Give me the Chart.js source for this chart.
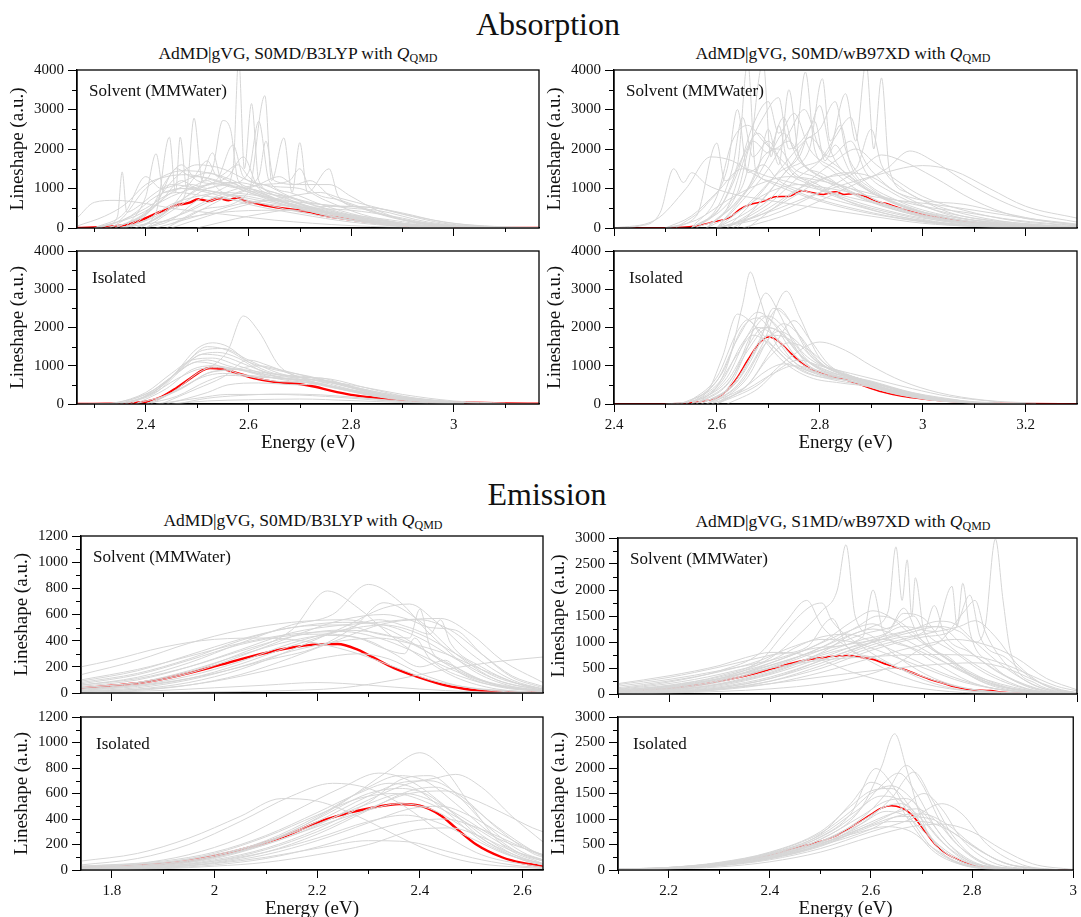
<!DOCTYPE html>
<html>
<head>
<meta charset="utf-8">
<script src="https://cdn.jsdelivr.net/npm/chart.js@4.4.0/dist/chart.umd.min.js"></script>
<style>
  body { margin: 0; background: #fff; width: 1081px; height: 917px; position: relative; overflow: hidden;
         font-family: "Liberation Serif", "Times New Roman", serif; color: #111; }
  canvas { position: absolute; }
  .sec { position: absolute; width: 400px; text-align: center; font-size: 32px; line-height: 32px; }
  .sub { position: absolute; width: 440px; text-align: center; font-size: 17.5px; line-height: 17px; white-space: nowrap; }
  .sub sub { font-size: 12px; vertical-align: -3px; line-height: 0; }
</style>
</head>
<body>
<div class="sec" style="left:348px; top:8px">Absorption</div>
<div class="sec" style="left:347px; top:478px">Emission</div>
<div class="sub" style="left:78px; top:45px">AdMD|gVG, S0MD/B3LYP with <i>Q</i><sub>QMD</sub></div>
<div class="sub" style="left:623px; top:45px">AdMD|gVG, S0MD/wB97XD with <i>Q</i><sub>QMD</sub></div>
<div class="sub" style="left:83px; top:512px">AdMD|gVG, S0MD/B3LYP with <i>Q</i><sub>QMD</sub></div>
<div class="sub" style="left:623px; top:513px">AdMD|gVG, S1MD/wB97XD with <i>Q</i><sub>QMD</sub></div>

<canvas id="absB3Solv"></canvas>
<canvas id="absB3Iso"></canvas>
<canvas id="absWbSolv"></canvas>
<canvas id="absWbIso"></canvas>
<canvas id="emB3Solv"></canvas>
<canvas id="emB3Iso"></canvas>
<canvas id="emWbSolv"></canvas>
<canvas id="emWbIso"></canvas>

<script>
// ---- tick values ----
const absB3_xTicks = [2.4, 2.6, 2.8, 3];
const absB3_xMinor = [2.3, 2.5, 2.7, 2.9, 3.1];
const absWb_xTicks = [2.4, 2.6, 2.8, 3, 3.2];
const absWb_xMinor = [2.5, 2.7, 2.9, 3.1];
const emB3_xTicks = [1.8, 2, 2.2, 2.4, 2.6];
const emB3_xMinor = [1.9, 2.1, 2.3, 2.5];
const emWb_xTicks = [2.2, 2.4, 2.6, 2.8, 3];
const emWb_xMinor = [2.1, 2.3, 2.5, 2.7, 2.9];
const abs_yTicks = [0, 1000, 2000, 3000, 4000];
const abs_yMinor = [500, 1500, 2500, 3500];
const emB3_yTicks = [0, 200, 400, 600, 800, 1000, 1200];
const emB3_yMinor = [100, 300, 500, 700, 900, 1100];
const emWb_yTicks = [0, 500, 1000, 1500, 2000, 2500, 3000];
const emWb_yMinor = [250, 750, 1250, 1750, 2250, 2750];

// ---- Absorption, S0MD/B3LYP, solvent ----
const absB3Solv_mean = [[2.266,0],[2.325,30],[2.367,100],[2.40,250],[2.422,380],[2.443,480],[2.457,570],[2.485,640],[2.502,730],[2.523,680],[2.544,755],[2.561,700],[2.579,770],[2.596,670],[2.61,640],[2.638,560],[2.672,490],[2.693,460],[2.721,400],[2.742,330],[2.797,220],[2.853,130],[2.916,60],[3.02,15],[3.166,0]];
const absB3Solv_grey = [
  [[2.266,250],[2.30,650],[2.34,700],[2.40,620],[2.45,500],[2.55,350],[2.65,200],[2.8,60],[2.95,10],[3.166,0]],
  [[2.266,50],[2.32,300],[2.36,600],[2.40,1100],[2.44,1300],[2.48,1350],[2.52,1250],[2.58,1000],[2.65,700],[2.75,400],[2.85,200],[2.95,60],[3.1,5],[3.166,0]],
  [[2.30,0],[2.33,100],[2.345,300],[2.354,1420],[2.363,400],[2.38,500],[2.42,900],[2.45,1100],[2.5,1000],[2.6,700],[2.7,400],[2.85,120],[3.0,10]],
  [[2.40,0],[2.45,200],[2.50,700],[2.55,1000],[2.57,1500],[2.581,4300],[2.592,1500],[2.606,3150],[2.62,1200],[2.65,900],[2.7,600],[2.8,250],[2.9,60],[3.0,10]],
  [[2.38,0],[2.42,400],[2.446,2300],[2.458,900],[2.467,2300],[2.48,1000],[2.52,1200],[2.55,900],[2.6,800],[2.7,500],[2.8,200],[2.9,50],[3.0,0]],
  [[2.40,100],[2.45,500],[2.48,1000],[2.494,2780],[2.51,1200],[2.53,1500],[2.55,2720],[2.565,2500],[2.58,1200],[2.62,900],[2.7,500],[2.8,200],[2.95,30]],
  [[2.45,100],[2.52,500],[2.6,900],[2.632,3350],[2.645,1200],[2.669,2280],[2.685,900],[2.70,2160],[2.715,900],[2.757,1500],[2.775,800],[2.82,500],[2.9,200],[3.0,50],[3.1,0]],
  [[2.30,0],[2.38,300],[2.45,800],[2.52,1100],[2.58,1150],[2.65,900],[2.72,650],[2.80,500],[2.85,450],[2.95,150],[3.05,30],[3.166,0]],
  [[2.34,0],[2.40,400],[2.46,1300],[2.50,1600],[2.55,1500],[2.60,1200],[2.65,1050],[2.70,1000],[2.75,700],[2.82,350],[2.9,120],[3.0,20]],
  [[2.35,0],[2.45,200],[2.55,400],[2.65,450],[2.75,400],[2.85,250],[2.95,80],[3.05,10]],
  [[2.40,0],[2.48,400],[2.55,800],[2.62,1300],[2.634,2200],[2.65,1200],[2.70,1100],[2.757,1100],[2.80,800],[2.85,450],[2.92,150],[3.0,30]],
  [[2.36,0],[2.40,800],[2.42,1880],[2.435,900],[2.47,1000],[2.52,900],[2.6,600],[2.7,350],[2.8,150],[2.9,30]],
  [[2.50,0],[2.6,300],[2.7,500],[2.78,550],[2.85,500],[2.92,300],[3.0,120],[3.08,40],[3.166,10]],
  [[2.30,0],[2.35,200],[2.40,1000],[2.45,1400],[2.48,1450],[2.55,1300],[2.62,900],[2.7,500],[2.8,200],[2.9,40]],
  [[2.32,0],[2.38,200],[2.43,700],[2.47,1200],[2.5,1000],[2.53,1900],[2.55,1100],[2.6,1000],[2.66,700],[2.74,400],[2.84,150],[2.95,20]],
  [[2.36,0],[2.42,300],[2.48,800],[2.52,1100],[2.56,1300],[2.59,1800],[2.62,1000],[2.67,800],[2.72,600],[2.8,300],[2.9,80],[3.0,10]],
  [[2.3,0],[2.36,400],[2.4,1300],[2.43,1000],[2.46,1100],[2.5,1300],[2.54,1200],[2.6,900],[2.68,550],[2.78,250],[2.9,50]],
  [[2.4,0],[2.46,300],[2.52,700],[2.58,1000],[2.63,1100],[2.68,1200],[2.7,1500],[2.72,1000],[2.78,700],[2.85,400],[2.92,150],[3.02,20]],
  [[2.33,0],[2.4,500],[2.46,900],[2.52,800],[2.58,700],[2.64,600],[2.72,500],[2.8,450],[2.88,300],[2.96,100],[3.06,15]],
  [[2.38,0],[2.44,400],[2.49,1200],[2.52,1700],[2.54,1300],[2.58,1600],[2.6,1300],[2.64,900],[2.7,600],[2.8,250],[2.9,60]],
  [[2.42,0],[2.5,300],[2.58,600],[2.64,700],[2.7,650],[2.78,550],[2.84,520],[2.9,380],[2.98,150],[3.08,30],[3.166,5]],
  [[2.35,0],[2.4,200],[2.45,600],[2.5,800],[2.55,900],[2.6,850],[2.67,700],[2.75,450],[2.85,200],[2.95,50]],
  [[2.34,0],[2.4,350],[2.45,900],[2.49,1100],[2.52,1000],[2.56,1150],[2.6,950],[2.66,700],[2.74,450],[2.84,180],[2.95,30]],
  [[2.39,0],[2.45,500],[2.5,1000],[2.54,1250],[2.57,2100],[2.59,1300],[2.63,1100],[2.68,800],[2.75,500],[2.85,200],[2.95,40]],
  [[2.37,0],[2.42,600],[2.46,1500],[2.49,1300],[2.52,1400],[2.56,1200],[2.62,850],[2.7,550],[2.8,250],[2.9,60]],
  [[2.44,0],[2.5,400],[2.56,800],[2.62,1100],[2.66,1300],[2.69,1100],[2.72,1200],[2.76,800],[2.82,500],[2.9,220],[3.0,50]],
  [[2.31,0],[2.37,300],[2.42,800],[2.47,1000],[2.52,950],[2.58,800],[2.64,650],[2.72,450],[2.82,220],[2.92,60]],
  [[2.4,0],[2.47,600],[2.52,1000],[2.56,1100],[2.6,1400],[2.62,2700],[2.64,1200],[2.68,900],[2.74,600],[2.82,300],[2.92,80]],
  [[2.36,0],[2.41,500],[2.44,1200],[2.47,1600],[2.5,1200],[2.55,1100],[2.6,1000],[2.66,800],[2.73,500],[2.82,220],[2.92,50]],
  [[2.45,0],[2.52,300],[2.6,600],[2.68,800],[2.74,900],[2.78,750],[2.84,550],[2.9,350],[2.98,120],[3.08,20]]
];

// ---- Absorption, S0MD/B3LYP, isolated ----
const absB3Iso_mean = [[2.266,0],[2.33,5],[2.38,30],[2.40,60],[2.43,180],[2.46,420],[2.49,700],[2.51,880],[2.525,940],[2.55,910],[2.58,800],[2.61,680],[2.65,580],[2.70,520],[2.73,450],[2.76,350],[2.80,240],[2.85,160],[2.9,100],[3.0,45],[3.1,15],[3.166,5]];
const absB3Iso_grey = [
  [[2.266,0],[2.35,30],[2.40,200],[2.45,700],[2.50,1450],[2.53,1600],[2.56,1500],[2.60,1100],[2.65,800],[2.72,700],[2.78,500],[2.85,250],[2.95,80],[3.05,20],[3.166,0]],
  [[2.30,0],[2.38,100],[2.44,600],[2.50,1250],[2.54,1350],[2.58,1200],[2.62,900],[2.70,650],[2.76,450],[2.85,200],[3.0,40]],
  [[2.38,0],[2.45,300],[2.50,800],[2.54,1100],[2.56,1400],[2.59,2300],[2.62,1900],[2.66,1000],[2.70,700],[2.78,400],[2.88,150],[3.0,30]],
  [[2.35,0],[2.42,400],[2.48,1000],[2.52,1150],[2.56,1000],[2.62,800],[2.68,700],[2.74,680],[2.80,450],[2.88,200],[3.0,50]],
  [[2.40,0],[2.46,200],[2.52,600],[2.56,750],[2.62,700],[2.70,650],[2.76,600],[2.82,400],[2.9,200],[3.0,60],[3.1,10]],
  [[2.42,0],[2.50,150],[2.56,250],[2.65,250],[2.75,200],[2.85,100],[2.95,30]],
  [[2.45,0],[2.52,80],[2.6,110],[2.7,130],[2.8,90],[2.9,40],[3.0,10]],
  [[2.36,0],[2.42,300],[2.47,900],[2.51,1300],[2.55,1250],[2.60,1000],[2.66,700],[2.72,600],[2.8,350],[2.9,120],[3.0,30]],
  [[2.40,0],[2.47,400],[2.52,800],[2.57,900],[2.62,1000],[2.66,900],[2.72,700],[2.78,500],[2.86,250],[2.95,80]],
  [[2.33,0],[2.40,250],[2.46,800],[2.50,1100],[2.53,1050],[2.58,800],[2.65,600],[2.72,550],[2.80,350],[2.9,120],[3.0,30]],
  [[2.43,0],[2.50,400],[2.55,700],[2.60,1150],[2.64,1000],[2.70,700],[2.76,550],[2.84,300],[2.95,100],[3.05,20]],
  [[2.44,0],[2.52,300],[2.56,500],[2.62,550],[2.7,500],[2.76,560],[2.82,450],[2.9,250],[3.0,80],[3.1,20]],
  [[2.36,0],[2.42,350],[2.47,950],[2.51,1400],[2.55,1450],[2.6,1150],[2.66,800],[2.72,650],[2.8,380],[2.9,130],[3.0,30]],
  [[2.38,0],[2.44,400],[2.49,900],[2.53,1000],[2.58,900],[2.64,700],[2.7,620],[2.78,420],[2.88,160],[3.0,30]],
  [[2.34,0],[2.4,300],[2.45,800],[2.49,1150],[2.53,1200],[2.58,1000],[2.64,750],[2.7,600],[2.78,380],[2.88,130],[3.0,25]],
  [[2.4,0],[2.46,350],[2.51,700],[2.55,800],[2.6,750],[2.68,650],[2.75,600],[2.82,400],[2.9,180],[3.0,40]],
  [[2.37,0],[2.43,450],[2.48,1100],[2.52,1500],[2.56,1400],[2.6,1100],[2.65,900],[2.72,720],[2.8,450],[2.9,150],[3.0,30]],
  [[2.41,0],[2.48,500],[2.53,850],[2.58,900],[2.64,800],[2.7,700],[2.76,650],[2.83,420],[2.92,160],[3.02,30]],
  [[2.46,0],[2.52,150],[2.58,220],[2.66,260],[2.74,240],[2.82,160],[2.92,60],[3.02,10]],
  [[2.35,0],[2.41,250],[2.46,650],[2.5,900],[2.54,950],[2.6,850],[2.66,650],[2.74,520],[2.82,320],[2.92,110],[3.02,20]]
];

// ---- Absorption, S0MD/wB97XD, solvent ----
const absWbSolv_mean = [[2.4,0],[2.5,5],[2.558,50],[2.592,150],[2.625,270],[2.645,480],[2.666,600],[2.692,680],[2.713,790],[2.74,800],[2.765,940],[2.787,890],[2.807,850],[2.83,920],[2.847,850],[2.867,870],[2.89,790],[2.908,680],[2.928,625],[2.961,480],[2.995,355],[3.03,270],[3.062,200],[3.13,100],[3.197,50],[3.3,25]];
const absWbSolv_grey = [
  [[2.4,0],[2.45,50],[2.49,400],[2.516,1500],[2.535,1150],[2.551,1400],[2.58,1100],[2.62,900],[2.7,700],[2.8,500],[2.9,300],[3.0,120],[3.1,40],[3.2,10],[3.3,0]],
  [[2.4,0],[2.48,200],[2.54,1000],[2.588,1800],[2.63,1700],[2.68,1300],[2.75,900],[2.85,500],[2.95,250],[3.05,80],[3.15,20],[3.3,0]],
  [[2.5,0],[2.56,300],[2.6,2150],[2.615,1200],[2.64,1600],[2.66,4200],[2.675,1500],[2.70,1200],[2.78,800],[2.88,450],[2.98,200],[3.1,50],[3.3,0]],
  [[2.55,0],[2.62,600],[2.66,1500],[2.69,4200],[2.705,1800],[2.72,2600],[2.74,1500],[2.78,1200],[2.85,700],[2.95,300],[3.05,100],[3.2,10]],
  [[2.58,0],[2.65,800],[2.7,1800],[2.73,2800],[2.75,2000],[2.772,3950],[2.79,2000],[2.82,1500],[2.88,900],[2.95,500],[3.05,200],[3.2,40],[3.3,10]],
  [[2.6,0],[2.68,600],[2.74,1500],[2.78,2000],[2.805,3780],[2.82,2200],[2.84,2600],[2.86,1600],[2.9,1000],[2.98,500],[3.08,180],[3.2,40],[3.3,10]],
  [[2.62,0],[2.7,700],[2.76,1500],[2.82,2000],[2.85,3400],[2.87,2200],[2.89,4200],[2.905,2000],[2.92,3800],[2.935,1500],[2.97,900],[3.05,400],[3.15,150],[3.3,30]],
  [[2.6,0],[2.7,300],[2.8,900],[2.88,1500],[2.92,1850],[2.96,1700],[3.02,1300],[3.1,700],[3.18,300],[3.3,80]],
  [[2.65,0],[2.75,400],[2.85,1000],[2.93,1500],[2.975,1950],[3.02,1700],[3.08,1200],[3.15,700],[3.22,350],[3.3,150]],
  [[2.6,0],[2.7,400],[2.8,900],[2.9,1300],[3.0,1580],[3.06,1450],[3.13,1000],[3.2,550],[3.3,250]],
  [[2.55,0],[2.6,400],[2.64,1400],[2.67,2600],[2.7,3200],[2.72,2400],[2.75,2900],[2.78,2000],[2.83,1500],[2.9,900],[3.0,400],[3.1,150],[3.2,40]],
  [[2.5,0],[2.55,300],[2.6,900],[2.65,1500],[2.7,1300],[2.76,1100],[2.82,900],[2.9,650],[3.0,400],[3.1,200],[3.2,80],[3.3,30]],
  [[2.56,0],[2.62,500],[2.66,2000],[2.69,2800],[2.72,3300],[2.74,2000],[2.78,2500],[2.8,3100],[2.82,2000],[2.87,1200],[2.95,600],[3.05,250],[3.2,50]],
  [[2.6,0],[2.68,300],[2.75,800],[2.8,1200],[2.85,1400],[2.9,1300],[2.95,900],[3.0,700],[3.08,600],[3.15,400],[3.25,150],[3.3,80]],
  [[2.55,0],[2.6,500],[2.63,1500],[2.65,2800],[2.67,1800],[2.7,2200],[2.73,1500],[2.78,1100],[2.85,700],[2.95,350],[3.05,120],[3.2,20]],
  [[2.58,0],[2.64,700],[2.68,1500],[2.7,2500],[2.72,1600],[2.74,3500],[2.76,1800],[2.8,1400],[2.86,900],[2.95,450],[3.05,150],[3.2,30]],
  [[2.6,0],[2.66,600],[2.72,1400],[2.76,1800],[2.79,2700],[2.81,1700],[2.83,2100],[2.86,1400],[2.92,800],[3.0,400],[3.1,150],[3.25,30]],
  [[2.52,0],[2.58,600],[2.62,1500],[2.64,3000],[2.66,1400],[2.69,1600],[2.72,1200],[2.78,900],[2.86,600],[2.95,300],[3.08,80],[3.25,10]],
  [[2.62,0],[2.7,600],[2.76,1300],[2.8,1700],[2.83,2300],[2.86,2800],[2.88,1900],[2.92,1200],[2.98,700],[3.06,300],[3.18,80],[3.3,20]],
  [[2.5,0],[2.56,200],[2.62,700],[2.68,1100],[2.74,1300],[2.8,1200],[2.86,1000],[2.92,800],[3.0,550],[3.08,400],[3.18,200],[3.3,60]],
  [[2.58,0],[2.64,900],[2.67,2200],[2.7,1900],[2.73,2400],[2.76,1700],[2.8,1300],[2.86,1000],[2.93,600],[3.02,280],[3.12,90],[3.25,15]],
  [[2.63,0],[2.7,500],[2.76,1000],[2.82,1300],[2.87,1500],[2.9,2500],[2.92,1600],[2.96,1000],[3.02,600],[3.1,300],[3.2,100],[3.3,30]],
  [[2.56,0],[2.61,600],[2.65,1800],[2.68,2400],[2.71,2000],[2.74,2200],[2.77,1600],[2.82,1200],[2.9,700],[3.0,300],[3.12,80],[3.3,10]],
  [[2.6,0],[2.65,700],[2.7,1500],[2.74,2400],[2.77,3000],[2.8,2000],[2.84,1500],[2.9,900],[2.98,450],[3.1,120],[3.3,20]],
  [[2.62,0],[2.68,800],[2.73,1600],[2.77,2200],[2.8,2500],[2.83,3200],[2.85,2000],[2.88,1300],[2.95,700],[3.05,300],[3.2,60]],
  [[2.55,0],[2.6,800],[2.63,2200],[2.66,2600],[2.69,2200],[2.72,1800],[2.76,1300],[2.82,900],[2.9,550],[3.0,250],[3.15,50]],
  [[2.64,0],[2.7,900],[2.75,1700],[2.78,2300],[2.82,1800],[2.86,2200],[2.89,1400],[2.94,900],[3.0,550],[3.1,250],[3.25,60]],
  [[2.58,0],[2.64,400],[2.7,900],[2.76,1100],[2.82,1000],[2.88,850],[2.95,700],[3.02,600],[3.1,450],[3.2,250],[3.3,100]],
  [[2.6,0],[2.66,1000],[2.69,1800],[2.72,2000],[2.75,1500],[2.79,1300],[2.84,1000],[2.9,650],[2.98,350],[3.1,100],[3.25,20]],
  [[2.66,0],[2.72,600],[2.78,1200],[2.83,1700],[2.87,2000],[2.91,1600],[2.95,1200],[3.0,800],[3.08,450],[3.18,180],[3.3,50]]
];

// ---- Absorption, S0MD/wB97XD, isolated ----
const absWbIso_mean = [[2.4,0],[2.5,2],[2.55,30],[2.58,90],[2.6,160],[2.62,360],[2.64,700],[2.66,1150],[2.68,1550],[2.70,1750],[2.72,1640],[2.74,1380],[2.76,1120],[2.78,930],[2.80,810],[2.83,700],[2.86,590],[2.89,450],[2.92,320],[2.96,200],[3.0,130],[3.05,70],[3.1,35],[3.2,10],[3.3,2]];
const absWbIso_grey = [
  [[2.5,0],[2.58,200],[2.62,1000],[2.65,2600],[2.665,3450],[2.68,2900],[2.71,1700],[2.75,1100],[2.8,800],[2.86,650],[2.92,400],[3.0,150],[3.1,30],[3.2,0]],
  [[2.52,0],[2.58,300],[2.61,1200],[2.64,2350],[2.67,2100],[2.71,1500],[2.76,900],[2.82,650],[2.88,500],[2.95,250],[3.05,60],[3.2,0]],
  [[2.55,0],[2.62,400],[2.66,1500],[2.695,2900],[2.72,2400],[2.76,1300],[2.8,800],[2.86,600],[2.93,350],[3.0,150],[3.1,30]],
  [[2.58,0],[2.64,500],[2.69,1600],[2.735,2950],[2.76,2300],[2.8,1200],[2.85,800],[2.9,550],[2.97,250],[3.05,80],[3.2,5]],
  [[2.56,0],[2.63,700],[2.67,1900],[2.70,2300],[2.73,2000],[2.77,1300],[2.82,900],[2.88,650],[2.95,300],[3.05,80]],
  [[2.6,0],[2.66,500],[2.71,1500],[2.75,2180],[2.78,1700],[2.82,1000],[2.88,650],[2.95,300],[3.05,80]],
  [[2.6,0],[2.68,500],[2.74,1200],[2.80,1620],[2.85,1400],[2.9,1000],[2.96,600],[3.03,300],[3.12,100],[3.22,20]],
  [[2.55,0],[2.62,600],[2.66,1500],[2.69,2000],[2.72,1900],[2.76,1300],[2.8,900],[2.86,700],[2.93,400],[3.0,180],[3.1,40]],
  [[2.58,0],[2.65,400],[2.7,900],[2.73,1050],[2.77,900],[2.82,700],[2.88,550],[2.94,300],[3.02,100],[3.1,20]],
  [[2.54,0],[2.6,700],[2.64,1900],[2.66,2200],[2.69,1700],[2.73,1100],[2.78,700],[2.84,550],[2.9,450],[2.96,250],[3.05,60]],
  [[2.57,0],[2.64,600],[2.68,1500],[2.71,2500],[2.74,2200],[2.78,1300],[2.84,800],[2.9,600],[2.98,300],[3.08,80]],
  [[2.62,0],[2.68,400],[2.72,900],[2.76,1150],[2.8,1000],[2.86,800],[2.92,600],[2.98,400],[3.05,200],[3.15,50]],
  [[2.54,0],[2.6,600],[2.64,1700],[2.68,2400],[2.71,2100],[2.75,1300],[2.8,850],[2.86,650],[2.93,380],[3.02,120],[3.12,20]],
  [[2.56,0],[2.62,500],[2.66,1400],[2.7,2000],[2.73,1800],[2.77,1200],[2.82,850],[2.88,600],[2.95,300],[3.05,70]],
  [[2.58,0],[2.64,600],[2.68,1600],[2.72,2500],[2.75,2000],[2.79,1200],[2.84,800],[2.9,580],[2.97,280],[3.06,70]],
  [[2.55,0],[2.61,800],[2.65,2000],[2.68,2250],[2.71,1800],[2.75,1100],[2.8,750],[2.86,600],[2.93,350],[3.02,100]],
  [[2.6,0],[2.66,700],[2.7,1700],[2.73,2100],[2.76,1800],[2.8,1100],[2.86,700],[2.92,500],[3.0,220],[3.1,50]],
  [[2.57,0],[2.63,500],[2.67,1300],[2.7,1800],[2.74,1700],[2.78,1100],[2.84,750],[2.9,560],[2.97,280],[3.06,60]],
  [[2.59,0],[2.66,400],[2.71,800],[2.75,1000],[2.79,900],[2.84,700],[2.9,560],[2.97,320],[3.05,120],[3.15,20]],
  [[2.53,0],[2.6,500],[2.64,1300],[2.67,1800],[2.7,1600],[2.74,1100],[2.79,750],[2.85,620],[2.92,420],[3.0,180],[3.1,40]],
  [[2.56,0],[2.62,700],[2.66,1800],[2.69,2300],[2.72,2000],[2.76,1300],[2.81,850],[2.87,620],[2.94,330],[3.03,90]],
  [[2.59,0],[2.65,600],[2.69,1500],[2.72,1900],[2.75,1700],[2.79,1150],[2.84,780],[2.9,580],[2.97,300],[3.06,70]],
  [[2.55,0],[2.61,600],[2.65,1600],[2.68,2000],[2.71,1800],[2.75,1200],[2.8,800],[2.86,640],[2.93,400],[3.02,130]],
  [[2.6,0],[2.66,500],[2.7,1200],[2.74,1600],[2.78,1400],[2.82,950],[2.88,650],[2.95,380],[3.04,110],[3.14,20]]
];

// ---- Emission, S0MD/B3LYP, solvent ----
const emB3Solv_mean = [[1.74,37],[1.80,55],[1.86,80],[1.93,134],[2.0,203],[2.07,278],[2.14,340],[2.20,372],[2.24,375],[2.28,330],[2.31,270],[2.35,190],[2.40,117],[2.45,58],[2.50,25],[2.56,8],[2.64,2]];
const emB3Solv_grey = [
  [[1.74,200],[1.80,250],[1.90,350],[2.0,410],[2.1,420],[2.2,380],[2.28,300],[2.35,200],[2.42,100],[2.5,40],[2.6,10]],
  [[1.74,140],[1.85,250],[1.95,380],[2.05,480],[2.15,540],[2.25,560],[2.33,500],[2.40,350],[2.47,180],[2.55,60],[2.64,15]],
  [[1.74,60],[1.85,120],[1.95,230],[2.05,380],[2.15,520],[2.23,600],[2.30,830],[2.36,700],[2.42,450],[2.5,180],[2.58,50],[2.64,20]],
  [[1.74,40],[1.85,80],[1.95,160],[2.05,300],[2.15,480],[2.22,780],[2.28,650],[2.34,450],[2.40,280],[2.47,120],[2.55,30],[2.64,5]],
  [[1.74,30],[1.85,70],[1.95,150],[2.05,280],[2.15,430],[2.25,560],[2.33,600],[2.38,560],[2.42,500],[2.47,480],[2.52,300],[2.58,120],[2.64,40]],
  [[1.74,80],[1.85,150],[1.95,260],[2.05,400],[2.15,500],[2.25,520],[2.32,450],[2.38,420],[2.40,640],[2.42,350],[2.47,200],[2.55,60],[2.64,10]],
  [[1.74,0],[1.9,5],[2.1,15],[2.25,40],[2.35,100],[2.45,180],[2.55,240],[2.64,275]],
  [[1.74,20],[1.9,80],[2.0,150],[2.1,250],[2.2,350],[2.27,500],[2.33,690],[2.4,550],[2.47,300],[2.55,100],[2.64,20]],
  [[1.74,50],[1.85,100],[1.95,200],[2.05,330],[2.15,460],[2.25,520],[2.32,540],[2.37,560],[2.44,570],[2.5,450],[2.56,250],[2.64,80]],
  [[1.74,10],[1.9,40],[2.0,90],[2.1,170],[2.2,260],[2.28,300],[2.34,260],[2.4,150],[2.47,60],[2.55,15],[2.64,0]],
  [[1.74,70],[1.85,140],[1.95,250],[2.05,370],[2.15,440],[2.22,450],[2.3,400],[2.35,300],[2.4,200],[2.45,250],[2.48,150],[2.55,50],[2.64,10]],
  [[1.74,0],[1.9,20],[2.0,40],[2.1,60],[2.2,80],[2.3,60],[2.4,30],[2.5,10],[2.64,0]],
  [[1.74,10],[1.85,30],[1.95,80],[2.05,180],[2.15,330],[2.25,500],[2.33,650],[2.38,680],[2.43,550],[2.5,300],[2.58,100],[2.64,30]],
  [[1.74,30],[1.85,60],[1.95,130],[2.05,240],[2.15,380],[2.25,480],[2.33,520],[2.4,450],[2.47,300],[2.55,120],[2.64,30]],
  [[1.74,60],[1.85,110],[1.95,200],[2.05,320],[2.15,430],[2.24,480],[2.3,470],[2.37,400],[2.44,260],[2.52,100],[2.64,15]],
  [[1.74,20],[1.85,50],[1.95,110],[2.05,220],[2.15,360],[2.25,480],[2.32,560],[2.38,500],[2.42,450],[2.44,560],[2.46,380],[2.52,200],[2.6,60],[2.64,30]],
  [[1.74,90],[1.85,170],[1.95,290],[2.05,410],[2.15,500],[2.25,540],[2.33,520],[2.4,420],[2.47,260],[2.55,100],[2.64,20]],
  [[1.74,5],[1.85,20],[1.95,60],[2.05,140],[2.15,270],[2.25,420],[2.33,530],[2.4,560],[2.46,480],[2.52,300],[2.58,130],[2.64,50]],
  [[1.74,40],[1.85,80],[1.95,170],[2.05,290],[2.15,400],[2.22,440],[2.28,420],[2.33,340],[2.37,300],[2.39,420],[2.42,260],[2.5,100],[2.64,10]],
  [[1.74,15],[1.85,40],[1.95,100],[2.05,200],[2.15,320],[2.25,400],[2.32,420],[2.38,380],[2.45,300],[2.52,180],[2.6,60],[2.64,30]],
  [[1.74,100],[1.85,180],[1.95,280],[2.05,380],[2.15,450],[2.25,470],[2.32,420],[2.38,330],[2.45,200],[2.53,80],[2.64,10]]
];

// ---- Emission, S0MD/B3LYP, isolated ----
const emB3Iso_mean = [[1.74,18],[1.80,25],[1.86,38],[1.93,59],[2.0,110],[2.07,180],[2.14,270],[2.20,372],[2.24,425],[2.31,490],[2.36,518],[2.40,505],[2.44,430],[2.47,330],[2.51,200],[2.56,100],[2.60,55],[2.64,30]];
const emB3Iso_grey = [
  [[1.74,70],[1.85,130],[1.95,250],[2.05,420],[2.13,560],[2.2,540],[2.28,420],[2.35,280],[2.42,150],[2.5,60],[2.64,10]],
  [[1.74,40],[1.85,90],[1.95,200],[2.05,380],[2.15,580],[2.23,680],[2.3,640],[2.37,500],[2.44,300],[2.52,120],[2.64,20]],
  [[1.74,20],[1.85,50],[1.95,120],[2.05,250],[2.15,450],[2.25,650],[2.32,760],[2.38,700],[2.45,500],[2.52,250],[2.6,80],[2.64,40]],
  [[1.74,5],[1.85,20],[1.95,60],[2.05,150],[2.15,300],[2.25,530],[2.34,780],[2.40,920],[2.45,780],[2.5,500],[2.56,200],[2.64,50]],
  [[1.74,10],[1.9,40],[2.0,90],[2.1,200],[2.2,350],[2.3,550],[2.38,680],[2.43,720],[2.47,750],[2.52,650],[2.58,420],[2.64,220]],
  [[1.74,30],[1.9,60],[2.0,120],[2.1,220],[2.2,360],[2.3,520],[2.37,600],[2.42,550],[2.48,420],[2.55,250],[2.64,120]],
  [[1.74,10],[1.9,30],[2.0,70],[2.1,140],[2.2,250],[2.3,380],[2.37,430],[2.43,380],[2.5,250],[2.57,120],[2.64,50]],
  [[1.74,5],[1.9,20],[2.0,50],[2.1,100],[2.2,170],[2.3,230],[2.38,220],[2.45,150],[2.52,80],[2.6,30],[2.64,20]],
  [[1.74,15],[1.9,50],[2.0,110],[2.1,230],[2.2,420],[2.3,650],[2.36,740],[2.41,700],[2.47,520],[2.54,280],[2.6,120],[2.64,70]],
  [[1.74,5],[1.9,25],[2.0,70],[2.1,160],[2.2,300],[2.3,480],[2.38,600],[2.45,620],[2.5,560],[2.56,450],[2.62,330],[2.64,300]],
  [[1.74,25],[1.9,60],[2.0,130],[2.1,260],[2.2,430],[2.28,560],[2.35,600],[2.42,520],[2.5,350],[2.58,160],[2.64,70]],
  [[1.74,0],[1.9,10],[2.0,30],[2.1,60],[2.2,120],[2.3,200],[2.4,320],[2.46,330],[2.52,260],[2.58,150],[2.64,80]],
  [[1.74,10],[1.9,40],[2.0,100],[2.1,210],[2.2,380],[2.3,580],[2.37,690],[2.42,700],[2.48,580],[2.55,330],[2.62,130],[2.64,100]],
  [[1.74,20],[1.9,50],[2.0,110],[2.1,220],[2.2,400],[2.3,600],[2.36,640],[2.41,600],[2.47,430],[2.54,220],[2.6,90],[2.64,50]],
  [[1.74,5],[1.9,20],[2.0,60],[2.1,140],[2.2,280],[2.3,470],[2.38,620],[2.43,650],[2.48,560],[2.55,340],[2.62,150],[2.64,110]],
  [[1.74,15],[1.9,45],[2.0,100],[2.1,200],[2.2,340],[2.3,470],[2.36,520],[2.42,480],[2.48,350],[2.55,180],[2.62,70],[2.64,50]],
  [[1.74,5],[1.9,20],[2.0,55],[2.1,120],[2.2,230],[2.3,370],[2.38,480],[2.44,500],[2.5,420],[2.56,280],[2.62,150],[2.64,120]],
  [[1.74,30],[1.9,70],[2.0,140],[2.1,270],[2.2,450],[2.28,600],[2.34,680],[2.39,640],[2.45,460],[2.52,230],[2.6,80],[2.64,40]],
  [[1.74,10],[1.9,30],[2.0,80],[2.1,170],[2.2,320],[2.3,530],[2.37,720],[2.42,740],[2.47,600],[2.53,350],[2.6,140],[2.64,80]],
  [[1.74,5],[1.9,15],[2.0,40],[2.1,90],[2.2,180],[2.3,300],[2.38,380],[2.45,400],[2.5,350],[2.56,250],[2.62,140],[2.64,110]]
];

// ---- Emission, S1MD/wB97XD, solvent ----
const emWbSolv_mean = [[2.1,44],[2.15,75],[2.2,106],[2.25,165],[2.3,250],[2.35,350],[2.40,480],[2.44,590],[2.47,655],[2.50,700],[2.55,740],[2.575,710],[2.60,665],[2.625,575],[2.645,510],[2.665,460],[2.69,360],[2.715,270],[2.74,200],[2.76,140],[2.795,80],[2.83,65],[2.855,30],[2.9,6],[3.0,0]];
const emWbSolv_grey = [
  [[2.1,200],[2.2,350],[2.3,550],[2.35,700],[2.4,800],[2.45,780],[2.5,650],[2.55,450],[2.62,250],[2.7,100],[2.8,20],[3.0,0]],
  [[2.1,100],[2.2,230],[2.3,450],[2.38,800],[2.43,1400],[2.47,1800],[2.5,1300],[2.55,900],[2.62,500],[2.7,200],[2.8,50],[3.0,0]],
  [[2.1,50],[2.2,120],[2.3,300],[2.4,700],[2.45,1100],[2.5,1600],[2.53,2000],[2.547,2870],[2.565,1500],[2.6,1100],[2.65,700],[2.72,300],[2.8,80],[2.9,10],[3.0,0]],
  [[2.1,30],[2.2,80],[2.3,200],[2.4,450],[2.5,800],[2.55,1100],[2.6,1300],[2.63,1600],[2.645,2830],[2.657,1800],[2.667,2580],[2.676,1500],[2.683,2235],[2.7,1200],[2.75,700],[2.8,300],[2.88,60],[3.0,0]],
  [[2.1,10],[2.2,40],[2.3,120],[2.4,300],[2.5,650],[2.6,1000],[2.66,1300],[2.72,1200],[2.755,2070],[2.765,1300],[2.776,2130],[2.79,1200],[2.83,600],[2.9,150],[2.97,20],[3.0,5]],
  [[2.1,20],[2.2,70],[2.3,180],[2.4,400],[2.5,750],[2.6,1000],[2.68,1200],[2.73,1300],[2.77,1200],[2.8,1000],[2.82,1300],[2.84,2980],[2.855,1800],[2.87,800],[2.92,200],[3.0,20]],
  [[2.1,5],[2.2,30],[2.3,90],[2.4,250],[2.5,550],[2.6,900],[2.7,1150],[2.77,1300],[2.8,1410],[2.84,1100],[2.88,600],[2.94,150],[3.0,20]],
  [[2.1,150],[2.2,280],[2.3,450],[2.4,650],[2.5,900],[2.58,1100],[2.6,2000],[2.62,1200],[2.67,900],[2.73,550],[2.8,200],[2.9,30],[3.0,0]],
  [[2.1,60],[2.2,150],[2.3,300],[2.4,500],[2.5,650],[2.6,720],[2.7,760],[2.78,750],[2.85,600],[2.9,400],[2.96,150],[3.0,60]],
  [[2.1,20],[2.2,50],[2.3,100],[2.4,200],[2.5,330],[2.6,450],[2.7,550],[2.8,600],[2.86,500],[2.92,250],[2.97,80],[3.0,30]],
  [[2.1,80],[2.2,170],[2.3,350],[2.38,650],[2.42,1100],[2.45,1450],[2.48,1700],[2.5,1750],[2.52,1400],[2.58,900],[2.65,500],[2.72,200],[2.8,50],[3.0,0]],
  [[2.1,0],[2.2,20],[2.3,50],[2.4,100],[2.5,200],[2.6,400],[2.65,600],[2.7,900],[2.73,1000],[2.78,1600],[2.8,1800],[2.82,1200],[2.85,700],[2.9,250],[2.96,40],[3.0,10]],
  [[2.1,40],[2.2,110],[2.3,260],[2.4,600],[2.5,1000],[2.56,1400],[2.6,1600],[2.63,1500],[2.68,1100],[2.74,700],[2.8,300],[2.88,80],[3.0,0]],
  [[2.1,30],[2.2,90],[2.3,230],[2.4,500],[2.5,850],[2.58,1150],[2.64,1300],[2.68,1500],[2.7,1200],[2.76,800],[2.82,400],[2.9,100],[3.0,5]],
  [[2.1,70],[2.2,160],[2.3,330],[2.4,600],[2.48,900],[2.55,1200],[2.6,1350],[2.63,1250],[2.66,1650],[2.69,1100],[2.75,650],[2.82,250],[2.9,50],[3.0,0]],
  [[2.1,15],[2.2,50],[2.3,140],[2.4,330],[2.5,650],[2.6,1000],[2.68,1250],[2.73,1400],[2.76,1350],[2.8,1000],[2.86,500],[2.93,120],[3.0,15]],
  [[2.1,120],[2.2,250],[2.3,430],[2.38,650],[2.44,900],[2.5,1050],[2.56,1000],[2.62,800],[2.7,500],[2.78,220],[2.88,50],[3.0,0]],
  [[2.1,25],[2.2,75],[2.3,190],[2.4,420],[2.5,780],[2.58,1050],[2.63,1200],[2.66,1550],[2.7,1450],[2.73,1100],[2.78,700],[2.85,300],[2.92,60],[3.0,5]],
  [[2.1,50],[2.2,130],[2.3,280],[2.4,550],[2.5,900],[2.57,1300],[2.61,1500],[2.65,1400],[2.7,1000],[2.76,600],[2.84,200],[2.92,40],[3.0,0]],
  [[2.1,10],[2.2,35],[2.3,100],[2.4,250],[2.5,500],[2.6,850],[2.7,1100],[2.76,1250],[2.79,1900],[2.81,1100],[2.86,700],[2.92,250],[2.98,40],[3.0,20]],
  [[2.1,180],[2.2,320],[2.3,520],[2.4,750],[2.47,900],[2.52,1450],[2.55,900],[2.6,700],[2.68,400],[2.76,150],[2.86,30],[3.0,0]],
  [[2.1,40],[2.2,100],[2.3,250],[2.4,520],[2.5,900],[2.56,1150],[2.6,1250],[2.64,1150],[2.7,850],[2.77,450],[2.85,150],[2.95,20]],
  [[2.1,20],[2.2,60],[2.3,160],[2.4,380],[2.5,700],[2.6,1050],[2.66,1200],[2.71,1300],[2.74,1250],[2.78,900],[2.84,450],[2.92,100],[3.0,10]],
  [[2.1,90],[2.2,200],[2.3,380],[2.4,650],[2.46,950],[2.5,1100],[2.55,1150],[2.6,1000],[2.67,700],[2.75,350],[2.84,100],[3.0,0]],
  [[2.1,10],[2.2,40],[2.3,120],[2.4,300],[2.5,600],[2.6,950],[2.66,1100],[2.7,1200],[2.72,1700],[2.74,1150],[2.79,800],[2.86,350],[2.94,60],[3.0,10]],
  [[2.1,60],[2.2,140],[2.3,300],[2.4,560],[2.5,850],[2.58,1000],[2.62,1050],[2.66,950],[2.72,700],[2.8,350],[2.9,80],[3.0,5]],
  [[2.1,5],[2.2,25],[2.3,80],[2.4,200],[2.5,420],[2.6,700],[2.7,950],[2.76,1050],[2.82,950],[2.88,700],[2.94,300],[3.0,80]]
];

// ---- Emission, S1MD/wB97XD, isolated ----
const emWbIso_mean = [[2.1,13],[2.2,32],[2.25,60],[2.3,103],[2.35,190],[2.40,288],[2.45,430],[2.50,560],[2.535,690],[2.57,900],[2.60,1090],[2.62,1210],[2.64,1260],[2.66,1220],[2.68,1090],[2.705,780],[2.73,470],[2.76,256],[2.8,96],[2.84,32],[2.9,6],[3.0,0]];
const emWbIso_grey = [
  [[2.1,20],[2.2,50],[2.3,140],[2.4,330],[2.5,700],[2.56,1300],[2.6,1720],[2.64,1500],[2.68,900],[2.72,400],[2.78,100],[2.85,15],[3.0,0]],
  [[2.1,10],[2.2,40],[2.3,120],[2.4,300],[2.5,600],[2.58,1200],[2.62,2000],[2.647,2670],[2.67,2000],[2.7,1000],[2.74,350],[2.8,60],[2.9,0]],
  [[2.1,15],[2.2,40],[2.3,110],[2.4,280],[2.5,550],[2.58,1000],[2.63,1500],[2.67,2050],[2.7,1700],[2.74,900],[2.8,250],[2.87,30],[3.0,0]],
  [[2.1,10],[2.2,35],[2.3,100],[2.4,250],[2.5,500],[2.58,900],[2.64,1400],[2.685,1920],[2.72,1400],[2.76,700],[2.82,150],[2.9,10]],
  [[2.1,20],[2.2,45],[2.3,130],[2.4,310],[2.5,650],[2.56,1100],[2.61,1990],[2.64,1700],[2.68,1000],[2.72,450],[2.78,120],[2.86,10]],
  [[2.1,10],[2.2,30],[2.3,90],[2.4,220],[2.5,480],[2.6,900],[2.66,1200],[2.705,1500],[2.74,1200],[2.78,600],[2.84,150],[2.92,10]],
  [[2.1,5],[2.2,25],[2.3,80],[2.4,200],[2.5,420],[2.6,750],[2.68,1000],[2.74,1300],[2.78,1100],[2.83,500],[2.9,100],[2.97,5]],
  [[2.1,5],[2.2,20],[2.3,60],[2.4,160],[2.5,350],[2.6,650],[2.68,850],[2.74,900],[2.8,750],[2.86,400],[2.92,120],[3.0,10]],
  [[2.1,15],[2.2,40],[2.3,110],[2.4,270],[2.5,520],[2.58,750],[2.63,850],[2.68,750],[2.72,450],[2.78,120],[2.85,15]],
  [[2.1,20],[2.2,50],[2.3,150],[2.4,350],[2.5,750],[2.56,1250],[2.6,1550],[2.64,1600],[2.68,1200],[2.72,600],[2.78,150],[2.86,10]],
  [[2.1,10],[2.2,35],[2.3,100],[2.4,260],[2.5,560],[2.58,950],[2.63,1250],[2.66,1300],[2.7,1000],[2.74,550],[2.8,150],[2.88,10]],
  [[2.1,10],[2.2,30],[2.3,90],[2.4,230],[2.5,480],[2.6,800],[2.65,1050],[2.7,1100],[2.75,900],[2.8,500],[2.86,150],[2.93,15]],
  [[2.1,10],[2.2,35],[2.3,110],[2.4,280],[2.5,600],[2.58,1050],[2.63,1350],[2.67,1400],[2.71,1050],[2.75,550],[2.81,130],[2.9,10]],
  [[2.1,15],[2.2,45],[2.3,130],[2.4,320],[2.5,680],[2.57,1150],[2.62,1450],[2.66,1350],[2.7,900],[2.74,400],[2.8,90],[2.88,5]],
  [[2.1,10],[2.2,30],[2.3,90],[2.4,230],[2.5,500],[2.58,850],[2.64,1100],[2.69,1200],[2.73,950],[2.77,500],[2.83,120],[2.9,10]],
  [[2.1,10],[2.2,35],[2.3,100],[2.4,250],[2.5,540],[2.58,900],[2.63,1150],[2.67,1050],[2.71,700],[2.76,300],[2.82,60],[2.9,0]],
  [[2.1,20],[2.2,50],[2.3,140],[2.4,340],[2.5,720],[2.56,1150],[2.6,1500],[2.64,1650],[2.68,1400],[2.72,800],[2.78,220],[2.86,20]],
  [[2.1,10],[2.2,30],[2.3,90],[2.4,220],[2.5,460],[2.58,780],[2.64,950],[2.7,950],[2.75,800],[2.8,480],[2.86,150],[2.94,15]],
  [[2.1,15],[2.2,40],[2.3,120],[2.4,300],[2.5,640],[2.57,1100],[2.62,1650],[2.655,1900],[2.69,1500],[2.73,800],[2.79,200],[2.86,20]],
  [[2.1,10],[2.2,30],[2.3,95],[2.4,240],[2.5,520],[2.6,880],[2.66,1050],[2.72,1000],[2.76,750],[2.82,350],[2.88,90],[2.95,10]]
];

// ---- drawing ----
const FAMILY = '"Liberation Serif", "Times New Roman", serif';
const INK = '#111';
const GREY = '#d6d6d6';
Chart.defaults.font.family = FAMILY;
Chart.defaults.color = INK;

const toXY = list => list.map(([x, y]) => ({ x, y }));

// box around the plot, minor ticks and the panel label
const framePlugin = {
  id: 'frame',
  afterDatasetsDraw(chart, args, o) {
    const { ctx, chartArea: a, scales } = chart;
    ctx.save();
    ctx.strokeStyle = '#000';
    ctx.lineWidth = 1;
    o.xMinor.forEach(v => {
      const px = Math.round(scales.x.getPixelForValue(v)) + 0.5;
      ctx.beginPath(); ctx.moveTo(px, a.bottom); ctx.lineTo(px, a.bottom + 4); ctx.stroke();
    });
    o.yMinor.forEach(v => {
      const py = Math.round(scales.y.getPixelForValue(v)) + 0.5;
      ctx.beginPath(); ctx.moveTo(a.left, py); ctx.lineTo(a.left - 5, py); ctx.stroke();
    });
    ctx.lineWidth = 1.3;
    ctx.strokeRect(a.left, a.top, a.right - a.left, a.bottom - a.top);
    ctx.fillStyle = INK;
    ctx.font = '17px ' + FAMILY;
    ctx.textBaseline = 'alphabetic';
    ctx.fillText(o.label, a.left + o.dx, a.top + o.dy);
    ctx.restore();
  }
};

function makePanel(id, p) {
  const cv = document.getElementById(id);
  const LEFT = 70, TOP = 10, RIGHT = 4;
  const BOTTOM = p.showX ? 50 : 12;
  const w = p.box[2] - p.box[0], h = p.box[3] - p.box[1];
  cv.width = LEFT + w + RIGHT;
  cv.height = TOP + h + BOTTOM;
  cv.style.left = (p.box[0] - LEFT) + 'px';
  cv.style.top = (p.box[1] - TOP) + 'px';

  const grey = p.grey.map(g => ({
    data: toXY(g), borderColor: GREY, borderWidth: 1, pointRadius: 0,
    cubicInterpolationMode: 'monotone', fill: false
  }));
  const mean = {
    data: toXY(p.mean), borderColor: '#ff0000', borderWidth: p.meanWidth, pointRadius: 0,
    cubicInterpolationMode: 'monotone', fill: false
  };
  const tickFont = { family: FAMILY, size: 15 };
  const titleFont = { family: FAMILY, size: 19 };

  new Chart(cv, {
    type: 'line',
    data: { datasets: grey.concat([mean]) },
    options: {
      responsive: false,
      animation: false,
      events: [],
      layout: { padding: { top: TOP, right: RIGHT, left: 0, bottom: 0 } },
      plugins: {
        legend: { display: false },
        tooltip: { enabled: false },
        frame: { xMinor: p.xMinor, yMinor: p.yMinor, label: p.label, dx: p.labelPos[0], dy: p.labelPos[1] }
      },
      scales: {
        x: {
          type: 'linear', min: p.xRange[0], max: p.xRange[1],
          afterBuildTicks: s => { s.ticks = p.xTicks.map(v => ({ value: v })); },
          afterFit: s => { s.height = BOTTOM; },
          ticks: { callback: v => p.showX ? String(v) : '', font: tickFont, color: INK, padding: 4, maxRotation: 0, autoSkip: false },
          grid: { drawOnChartArea: false, drawTicks: true, tickLength: 8, tickColor: '#000', tickWidth: 1 },
          border: { display: true, color: '#000', width: 1.3 },
          title: { display: p.showX, text: 'Energy (eV)', font: titleFont, color: INK, padding: { top: 0, bottom: 0 } }
        },
        y: {
          min: 0, max: p.yTicks[p.yTicks.length - 1],
          afterBuildTicks: s => { s.ticks = p.yTicks.map(v => ({ value: v })); },
          afterFit: s => { s.width = LEFT; },
          ticks: { callback: v => String(v), font: tickFont, color: INK, padding: 4, autoSkip: false },
          grid: { drawOnChartArea: false, drawTicks: true, tickLength: 9, tickColor: '#000', tickWidth: 1 },
          border: { display: true, color: '#000', width: 1.3 },
          title: { display: true, text: 'Lineshape (a.u.)', font: titleFont, color: INK, padding: { top: 0, bottom: 0 } }
        }
      }
    },
    plugins: [framePlugin]
  });
}

const SOLV = 'Solvent (MMWater)', ISO = 'Isolated';

makePanel('absB3Solv', { box: [77, 67, 539, 229], xRange: [2.266, 3.166], xTicks: absB3_xTicks, xMinor: absB3_xMinor,
  yTicks: abs_yTicks, yMinor: abs_yMinor, mean: absB3Solv_mean, grey: absB3Solv_grey, meanWidth: 2.4,
  label: SOLV, labelPos: [12, 26], showX: false });
makePanel('absB3Iso', { box: [77, 248, 539, 404], xRange: [2.266, 3.166], xTicks: absB3_xTicks, xMinor: absB3_xMinor,
  yTicks: abs_yTicks, yMinor: abs_yMinor, mean: absB3Iso_mean, grey: absB3Iso_grey, meanWidth: 2.4,
  label: ISO, labelPos: [15, 32], showX: true });
makePanel('absWbSolv', { box: [614, 67, 1077, 229], xRange: [2.4, 3.3], xTicks: absWb_xTicks, xMinor: absWb_xMinor,
  yTicks: abs_yTicks, yMinor: abs_yMinor, mean: absWbSolv_mean, grey: absWbSolv_grey, meanWidth: 1.5,
  label: SOLV, labelPos: [12, 26], showX: false });
makePanel('absWbIso', { box: [614, 248, 1077, 404], xRange: [2.4, 3.3], xTicks: absWb_xTicks, xMinor: absWb_xMinor,
  yTicks: abs_yTicks, yMinor: abs_yMinor, mean: absWbIso_mean, grey: absWbIso_grey, meanWidth: 1.5,
  label: ISO, labelPos: [15, 32], showX: true });
makePanel('emB3Solv', { box: [81, 533, 543, 694], xRange: [1.74, 2.64], xTicks: emB3_xTicks, xMinor: emB3_xMinor,
  yTicks: emB3_yTicks, yMinor: emB3_yMinor, mean: emB3Solv_mean, grey: emB3Solv_grey, meanWidth: 2.4,
  label: SOLV, labelPos: [12, 26], showX: false });
makePanel('emB3Iso', { box: [81, 714, 543, 870], xRange: [1.74, 2.64], xTicks: emB3_xTicks, xMinor: emB3_xMinor,
  yTicks: emB3_yTicks, yMinor: emB3_yMinor, mean: emB3Iso_mean, grey: emB3Iso_grey, meanWidth: 2.4,
  label: ISO, labelPos: [15, 32], showX: true });
makePanel('emWbSolv', { box: [618, 535, 1077, 695], xRange: [2.1, 3.0], xTicks: emWb_xTicks, xMinor: emWb_xMinor,
  yTicks: emWb_yTicks, yMinor: emWb_yMinor, mean: emWbSolv_mean, grey: emWbSolv_grey, meanWidth: 1.7,
  label: SOLV, labelPos: [12, 26], showX: false });
makePanel('emWbIso', { box: [618, 714, 1077, 870], xRange: [2.1, 3.0], xTicks: emWb_xTicks, xMinor: emWb_xMinor,
  yTicks: emWb_yTicks, yMinor: emWb_yMinor, mean: emWbIso_mean, grey: emWbIso_grey, meanWidth: 1.5,
  label: ISO, labelPos: [15, 32], showX: true });
</script>
</body>
</html>
